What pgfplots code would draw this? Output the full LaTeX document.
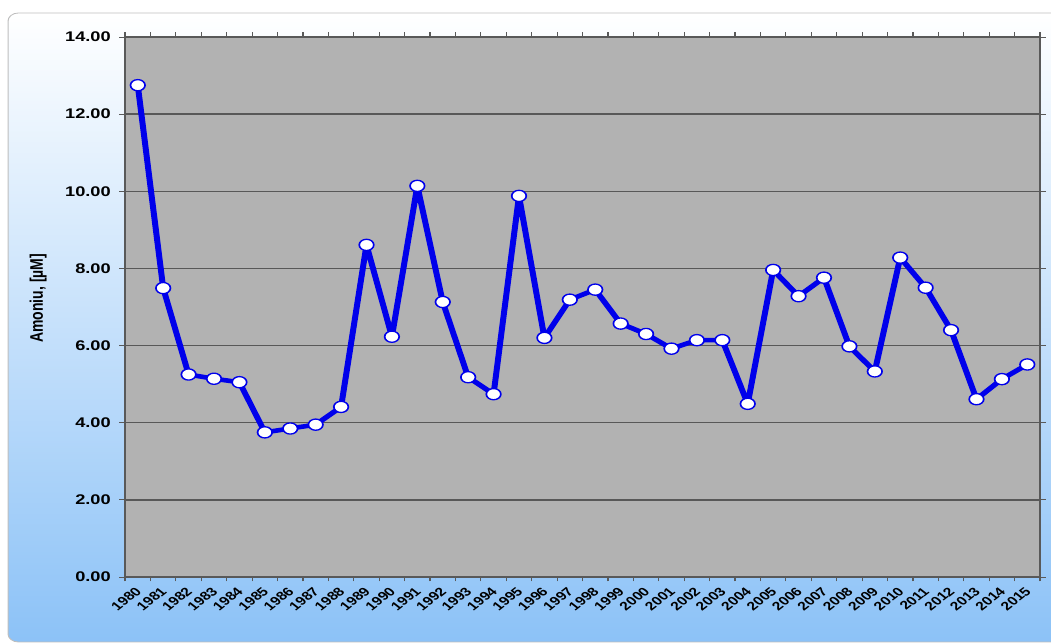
\documentclass[border=0pt]{standalone}
\usepackage{pgfplots}
\pgfplotsset{compat=1.18}
\usepackage{graphicx}
\usepackage{fontspec}
\setmainfont{Liberation Sans}
\definecolor{plotbg}{RGB}{178,178,178}
\definecolor{gridc}{RGB}{88,88,88}
\definecolor{bgtop}{RGB}{255,255,255}
\definecolor{bgmid}{RGB}{224,239,254}
\definecolor{bgbot}{RGB}{140,194,247}
\definecolor{linec}{RGB}{0,0,235}
\definecolor{framec}{RGB}{190,190,190}
\begin{document}
\scalebox{1.3}[1]{%
\begin{tikzpicture}
\useasboundingbox (0,0) rectangle (808.46pt,644pt);
\fill[white] (0,0) rectangle (808.46pt,644pt);
\draw[framec, line width=0.8pt, rounded corners=8pt, top color=bgtop, middle color=bgmid, bottom color=bgbot]
  (6.2pt,2pt) rectangle (830pt,631pt);
\begin{axis}[
  at={(96.2pt,67pt)}, anchor=south west,
  scale only axis, width=703.8pt, height=540pt,
  xmin=-0.5, xmax=35.5, ymin=0, ymax=14,
  axis background/.style={fill=plotbg},
  axis line style={draw=gray!70!black, line width=1pt},
  xtick={-0.5,0.5,...,35.5},
  xticklabels={},
  extra x ticks={0,...,35},
  extra x tick labels={1980,1981,1982,1983,1984,1985,1986,1987,1988,1989,1990,1991,1992,1993,1994,1995,1996,1997,1998,1999,2000,2001,2002,2003,2004,2005,2006,2007,2008,2009,2010,2011,2012,2013,2014,2015},
  extra x tick style={major tick length=0pt, xticklabel style={font=\fontsize{12}{14}\selectfont\bfseries, yshift=-12pt, xshift=1pt, rotate=45, anchor=east, inner sep=0.5pt}},
  ytick={0,2,...,14},
  yticklabels={0.00,2.00,4.00,6.00,8.00,10.00,12.00,14.00},
  tick align=outside,
  major tick length=4.5pt,
  tick style={draw=gray!70!black, line width=0.9pt},
  ymajorgrids,
  major grid style={draw=gridc, line width=1.3pt},
  yticklabel style={font=\fontsize{14}{16}\selectfont\bfseries, xshift=-3pt},
  ylabel={Amoniu, [µM]},
  every axis y label/.style={at={(axis description cs:-0.095,0.516)}, rotate=90, anchor=center, font=\fontsize{14}{16}\selectfont\bfseries},
  clip=false,
]
\addplot[linec, line width=4.6pt, line join=round, mark=*, mark size=5.6pt, mark options={fill=white, draw=linec, line width=1.3pt}]
coordinates {
(0,12.75) (1,7.49) (2,5.25) (3,5.14) (4,5.05) (5,3.75) (6,3.85) (7,3.95) (8,4.41) (9,8.61)
(10,6.23) (11,10.14) (12,7.13) (13,5.18) (14,4.74) (15,9.88) (16,6.20) (17,7.19) (18,7.45) (19,6.57)
(20,6.30) (21,5.92) (22,6.14) (23,6.14) (24,4.49) (25,7.96) (26,7.28) (27,7.76) (28,5.98) (29,5.33)
(30,8.28) (31,7.50) (32,6.40) (33,4.61) (34,5.13) (35,5.51)
};
\end{axis}
\end{tikzpicture}}
\end{document}
